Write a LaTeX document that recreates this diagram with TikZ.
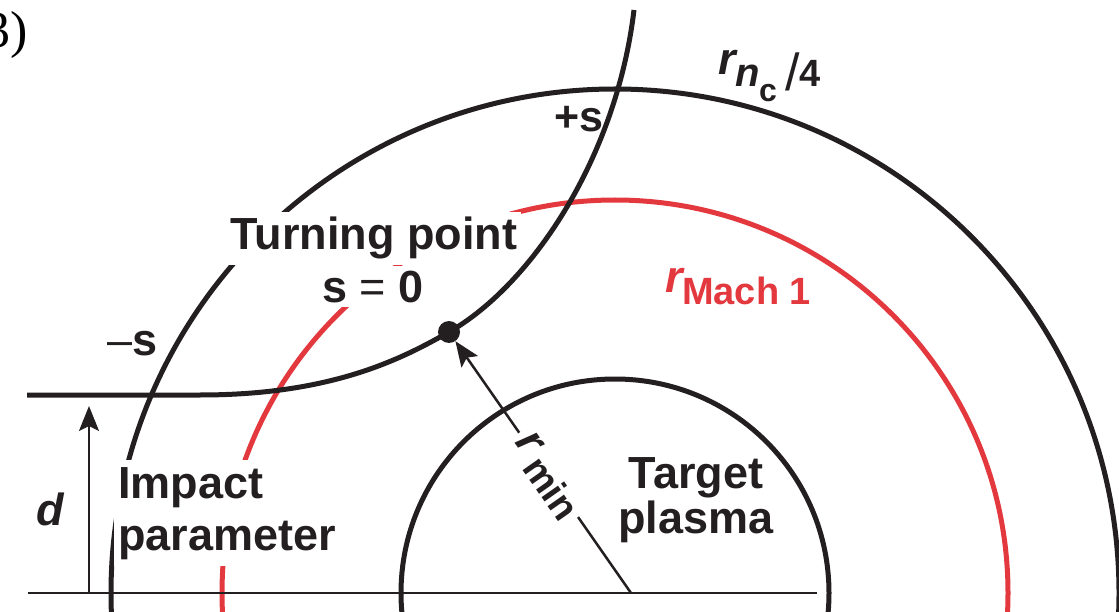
\documentclass[tikz,border=0pt]{standalone}
\usepackage{fontspec}
\setmainfont{Liberation Sans}
\newfontfamily\serifface{Liberation Serif}
\usetikzlibrary{arrows.meta}
\definecolor{ink}{RGB}{35,31,32}
\definecolor{machred}{RGB}{226,56,62}
\newcommand{\fsz}[1]{\fontsize{#1}{#1}\selectfont}
\begin{document}
\begin{tikzpicture}[x=1pt,y=-1pt,
  ring/.style={draw=ink, line width=5pt},
  redring/.style={draw=machred, line width=5pt},
  thinline/.style={draw=ink, line width=2.5pt},
  arr/.style={draw=ink, line width=2.5pt, -{Stealth[length=25pt,width=20pt,inset=5pt]}},
  lbl/.style={inner sep=0pt, font=\fsz{45}\bfseries, text=ink},
  knock/.style={fill=white, inner xsep=4pt, inner ysep=5pt},
]
\useasboundingbox (0,0) rectangle (1119,612);
\clip (0,0) rectangle (1119,612);
% circles
\coordinate (C) at (615,593);
\draw[ring] (C) circle[radius=214pt];
\draw[redring] (C) circle[radius=393pt];
\draw[ring] (C) circle[radius=504pt];
% axis
\coordinate (axl) at (28,593);
\coordinate (axr) at (817,593);
\draw[thinline] (axl) -- (axr);
% trajectory
\coordinate (t0) at (27,395);
\coordinate (t1) at (200,395);
\coordinate (tend) at (634,10);
\node[circle, fill=ink, inner sep=0pt, minimum size=22pt] (tp) at (449,332) {};
\draw[ring] (t0) -- (t1) .. controls (330,395) and (400,360) .. (tp.center)
  .. controls (530,286) and (616,160) .. (tend);
% arrows
\coordinate (rb) at (631,593);
\draw[arr] (rb) -- (tp);
\coordinate (db) at (89,593);
\coordinate (dt) at (89,406);
\draw[arr] (db) -- (dt);
% labels
\node[inner sep=0pt, anchor=base east, font=\serifface\fsz{52}] (panel) at (28,48) {3)};
\node[lbl, anchor=base west, font=\fsz{43}\bfseries] (plus) at (554,132) {+s};
\node[lbl, anchor=base west] (minus) at (107,355) {{\mdseries –}s};
\node[lbl, knock, anchor=base] (turn1) at (374,250) {Turning point};
\node[lbl, knock, anchor=base] (turn2) at (373,302) {s {\mdseries =} 0};
\node[lbl, anchor=base west] (dlab) at (36,525) {\itshape d};
\node[lbl, knock, inner ysep=7pt, anchor=base west] (imp1) at (114,498) {Impact};
\node[lbl, knock, inner ysep=7pt, anchor=base west] (imp2) at (114,550) {parameter};
\node[lbl, anchor=base] (tg1) at (696,488) {Target};
\node[lbl, anchor=base] (tg2) at (696,533) {plasma};
% r_{n_c}/4
\node[lbl, anchor=base west] (rnc) at (718,75) {\itshape r};
\node[lbl, anchor=base west, font=\fsz{40}\bfseries\itshape] (rncn) at (735,87) {n};
\node[lbl, anchor=base west, font=\fsz{32}\bfseries] (rncc) at (759,102) {c};
\node[lbl, anchor=base west, font=\fsz{52}\mdseries] (rncs) at (785,91) {/};
\node[lbl, anchor=base west, font=\fsz{38}\bfseries] (rnc4) at (799,87) {4};
% r_Mach 1
\node[lbl, anchor=base west, text=machred] (rm) at (665,293) {\itshape r};
\node[lbl, anchor=base west, text=machred, font=\fsz{38}\bfseries] (rmsub) at (682,305) {Mach 1};
% r_min
\node[lbl, fill=white, inner sep=5pt, rotate=-55] (rmin) at (547,476) {{\itshape r}\,\raisebox{-9pt}{\fsz{38}min}};
\end{tikzpicture}
\end{document}
